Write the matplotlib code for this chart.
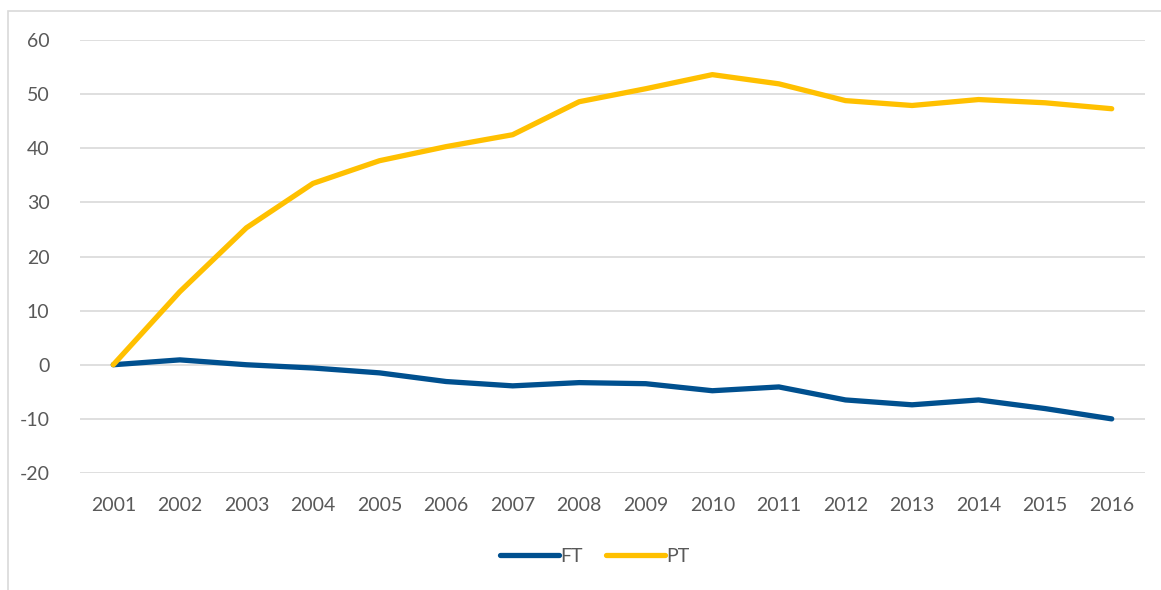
import matplotlib.pyplot as plt
from matplotlib.patches import Rectangle

years = [str(y) for y in range(2001, 2017)]
ft = [0, 0.9, 0, -0.6, -1.5, -3.1, -3.9, -3.3, -3.5, -4.8, -4.1, -6.5, -7.4, -6.5, -8.1, -10.0]
pt = [0, 13.5, 25.3, 33.5, 37.7, 40.3, 42.5, 48.6, 51.0, 53.6, 51.9, 48.8, 47.9, 49.0, 48.4, 47.3]

plt.rcParams['font.family'] = ['Lato', 'DejaVu Sans']
plt.rcParams['axes.unicode_minus'] = False
txt = '#595959'

fig = plt.figure(figsize=(11.61, 5.9), dpi=100)
# thin chart border (cropped on right/bottom)
fig.patches.append(Rectangle((8 / 1161, -0.1), 1.2, 1.1 - 11 / 590,
                             transform=fig.transFigure, fill=False,
                             edgecolor='#D9D9D9', linewidth=1.2))

ax = fig.add_axes([80 / 1161, 1 - 473 / 590, (1145 - 80) / 1161, (473 - 40) / 590])
x = list(range(1, len(years) + 1))
ax.plot(x, ft, color='#00508F', linewidth=3.8, solid_capstyle='round', label='FT')
ax.plot(x, pt, color='#FFC000', linewidth=3.8, solid_capstyle='round', label='PT')

ax.set_xlim(0.5, len(years) + 0.5)
ax.set_ylim(-20, 60)
ax.set_yticks(range(-20, 61, 10))
ax.set_xticks(x)
ax.set_xticklabels(years)
ax.grid(axis='y', color='#D9D9D9', linewidth=1.2)
ax.set_axisbelow(True)
for s in ax.spines.values():
    s.set_visible(False)
ax.tick_params(axis='both', length=0, labelsize=14, labelcolor=txt)
ax.tick_params(axis='y', pad=22)
ax.tick_params(axis='x', pad=17)

fig.legend(loc='center', bbox_to_anchor=(595 / 1161, 1 - 556 / 590), ncol=2,
           frameon=False, fontsize=14, labelcolor=txt, handlelength=3.0,
           handletextpad=0.1, columnspacing=1.2)

fig.savefig('out.png', dpi=100)
